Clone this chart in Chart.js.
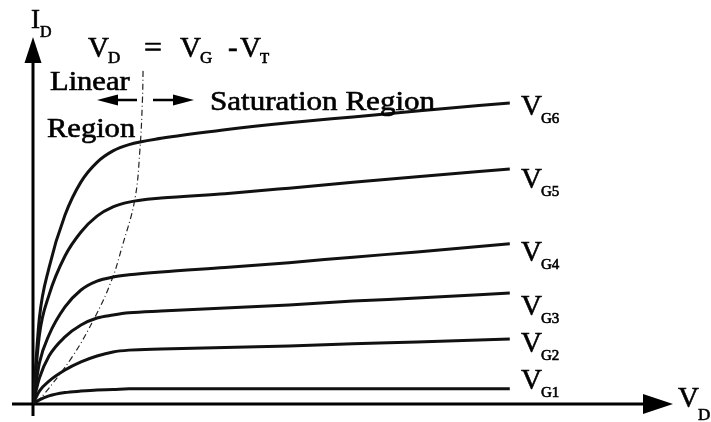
<!DOCTYPE html>
<html>
<head>
<meta charset="utf-8">
<script src="https://cdn.jsdelivr.net/npm/chart.js@4/dist/chart.umd.min.js"></script>
<style>
    html, body { margin: 0; padding: 0; background: #fff; }
    #wrap { width: 711px; height: 422px; }
</style>
</head>
<body>
<div id="wrap"><canvas id="mosfetChart" width="711" height="422"></canvas></div>
<script>
// Выходные характеристики МОП-транзистора

const vd = [0, 0.1, 0.25, 0.5, 0.75, 1, 1.25, 1.5, 2, 3, 4, 5, 6, 7.45];

const idG6 = [0, 2.33, 3.69, 5.12, 6.02, 6.55, 6.86, 7.03, 7.20, 7.43, 7.62, 7.78, 7.94, 8.16];
const idG5 = [0, 1.87, 2.95, 4.01, 4.66, 5.09, 5.34, 5.47, 5.58, 5.70, 5.85, 6.01, 6.16, 6.37];
const idG4 = [0, 1.11, 1.87, 2.63, 3.09, 3.33, 3.44, 3.50, 3.58, 3.70, 3.83, 3.98, 4.12, 4.34];
const idG3 = [0, 0.70, 1.30, 1.82, 2.14, 2.33, 2.41, 2.47, 2.52, 2.60, 2.68, 2.79, 2.87, 3.01];
const idG2 = [0, 0.35, 0.62, 0.92, 1.14, 1.30, 1.41, 1.46, 1.49, 1.53, 1.57, 1.63, 1.68, 1.76];
const idG1 = [0, 0.11, 0.22, 0.31, 0.35, 0.38, 0.39, 0.41, 0.41, 0.41, 0.41, 0.41, 0.41, 0.41];

// граница VD = VG - VT
const edgeVd = [0.06, 0.19, 0.61, 0.97, 1.23, 1.39, 1.59, 1.67, 1.71, 1.72];
const edgeId = [0.05, 0.30, 1.27, 2.36, 3.36, 4.25, 5.53, 6.88, 8.24, 9.05];

const curves = [idG6, idG5, idG4, idG3, idG2, idG1];

const font = '"Liberation Serif", "Times New Roman", serif';

function txt(ctx, s, x, y, size, sx) {
    ctx.save();
    ctx.translate(x, y);
    ctx.scale(sx || 1, 1);
    ctx.font = size + 'px ' + font;
    ctx.lineWidth = 0.6;
    ctx.fillText(s, 0, 0);
    ctx.strokeText(s, 0, 0);
    ctx.restore();
}

// V с индексом
function vLabel(ctx, sub, x, y, size, subSize, dy) {
    txt(ctx, 'V', x, y, size);
    ctx.font = size + 'px ' + font;
    const w = ctx.measureText('V').width;
    txt(ctx, sub, x + w - 1, y + dy, subSize);
}

function arrowHead(ctx, tx, ty, dx, dy, len, half) {
    // dx, dy - направление стрелки
    const bx = tx - dx * len, by = ty - dy * len;
    ctx.beginPath();
    ctx.moveTo(tx, ty);
    ctx.lineTo(bx - dy * half, by + dx * half);
    ctx.lineTo(bx + dy * half, by - dx * half);
    ctx.closePath();
    ctx.fill();
}

const decorPlugin = {
    id: 'decor',
    beforeDatasetsDraw(chart) {
        const ctx = chart.ctx;
        const xs = chart.scales.x, ys = chart.scales.y;
        const x0 = xs.getPixelForValue(0), y0 = ys.getPixelForValue(0);
        const xEnd = xs.getPixelForValue(xs.max), yEnd = ys.getPixelForValue(ys.max);
        ctx.save();
        ctx.strokeStyle = '#000';
        ctx.fillStyle = '#000';
        ctx.lineWidth = 3;
        ctx.beginPath();
        ctx.moveTo(x0, y0 + 12);
        ctx.lineTo(x0, yEnd + 20);
        ctx.moveTo(x0 - 21, y0);
        ctx.lineTo(xEnd - 25, y0);
        ctx.stroke();
        arrowHead(ctx, x0, yEnd + 2, 0, -1, 26, 8.5);
        arrowHead(ctx, xEnd, y0, 1, 0, 30, 10);
        ctx.restore();
    },
    afterDatasetsDraw(chart) {
        const ctx = chart.ctx;
        ctx.save();
        ctx.fillStyle = '#000';
        ctx.strokeStyle = '#000';
        ctx.textBaseline = 'alphabetic';

        // подписи осей
        txt(ctx, 'I', 31, 28, 27);
        txt(ctx, 'D', 40, 37, 16);
        vLabel(ctx, 'D', 678, 407, 29, 17, 13);

        // VD = VG - VT
        vLabel(ctx, 'D', 88, 57, 29, 17, 6);
        txt(ctx, '=', 144, 57, 29, 1.1);
        vLabel(ctx, 'G', 180, 57, 29, 17, 6);
        txt(ctx, '-', 228, 57, 29);
        vLabel(ctx, 'T', 240, 57, 29, 15, 6);

        txt(ctx, 'Linear', 50, 90, 27, 1.13);
        txt(ctx, 'Region', 47, 137, 27, 1.13);
        txt(ctx, 'Saturation Region', 210, 110, 27, 1.15);

        ctx.lineWidth = 2.5;
        ctx.beginPath();
        ctx.moveTo(137, 100);
        ctx.lineTo(115, 100);
        ctx.moveTo(153, 100);
        ctx.lineTo(176, 100);
        ctx.stroke();
        arrowHead(ctx, 97, 100, -1, 0, 21, 5.5);
        arrowHead(ctx, 194, 100, 1, 0, 21, 5.5);

        // VG1 ... VG6
        const names = ['G6', 'G5', 'G4', 'G3', 'G2', 'G1'];
        const baseY = [115, 188, 261, 315, 352, 389];
        names.forEach((n, i) => vLabel(ctx, n, 521, baseY[i], 29, 15, 8));

        ctx.restore();
    }
};

const datasets = curves.map((ids) => ({
    data: vd.map((v, i) => ({ x: v, y: ids[i] })),
    borderColor: '#111',
    borderWidth: 3,
    pointRadius: 0,
    showLine: true,
    cubicInterpolationMode: 'monotone',
    fill: false,
}));

datasets.push({
    data: edgeVd.map((v, i) => ({ x: v, y: edgeId[i] })),
    borderColor: '#222',
    borderWidth: 1.2,
    borderDash: [6, 3, 1, 3],
    pointRadius: 0,
    showLine: true,
    tension: 0.4,
    fill: false,
});

new Chart(document.getElementById('mosfetChart'), {
    type: 'scatter',
    data: { datasets: datasets },
    options: {
        responsive: false,
        devicePixelRatio: 1,
        animation: false,
        layout: { padding: { left: 33, right: 38, top: 35, bottom: 18 } },
        scales: {
            x: { type: 'linear', min: 0, max: 10, display: false },
            y: { type: 'linear', min: 0, max: 10, display: false },
        },
        plugins: {
            legend: { display: false },
            tooltip: { enabled: false },
        },
    },
    plugins: [decorPlugin],
});
</script>
</body>
</html>
